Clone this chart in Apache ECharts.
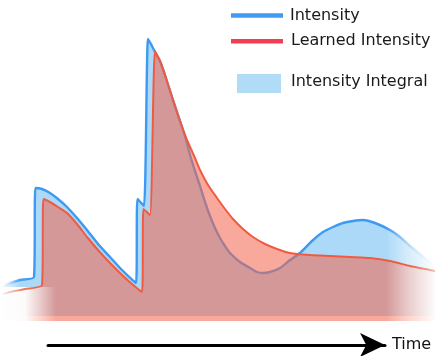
<!DOCTYPE html>
<html>
<head>
<meta charset="utf-8">
<script src="https://cdn.jsdelivr.net/npm/echarts@6/dist/echarts.min.js"></script>
<style>
html,body{margin:0;padding:0;background:#fff;}
#chart{width:435px;height:356px;}
</style>
</head>
<body>
<div id="chart"></div>
<script>
// Intensity (ground truth)
var intensityTime = [0.3,1.0,2.0,3.4,3.55,4.2,5.0,5.8,6.7,7.7,8.7,9.8,11.0,12.2,13.6,13.75,14.4,14.8,15.2,15.6,16.0,16.5,17.3,18.0,18.5,19.0,19.5,20.0,20.5,21.0,21.5,22.0,22.5,23.0,24.0,25.0,25.7,26.3,27.0,28.0,29.0,30.0,31.2,32.3,33.3,34.3,35.3,36.3,37.5,39.0,40.0,41.0,42.0,43.0,43.5];
var intensityValues = [0.35,0.38,0.41,0.44,1.33,1.32,1.28,1.22,1.14,1.03,0.91,0.77,0.64,0.51,0.38,1.22,1.15,2.82,2.75,2.67,2.60,2.46,2.21,2.00,1.85,1.66,1.50,1.35,1.19,1.05,0.93,0.83,0.75,0.68,0.59,0.53,0.49,0.48,0.49,0.53,0.61,0.68,0.80,0.89,0.94,0.98,1.00,1.01,0.98,0.91,0.84,0.75,0.67,0.59,0.55];
// Learned intensity
var learnedTime = [0.3,1.0,2.5,4.2,4.35,5.0,5.8,6.7,7.7,8.7,9.8,11.0,12.2,13.2,14.2,14.35,15.0,15.5,16.0,16.5,17.3,18.0,18.7,19.5,20.0,20.8,21.7,22.5,23.3,24.3,25.3,26.5,27.7,29.0,31.0,33.0,35.0,37.0,39.0,41.0,43.0,43.5];
var learnedValues = [0.27,0.29,0.32,0.36,1.22,1.19,1.14,1.08,0.97,0.84,0.71,0.58,0.46,0.37,0.29,1.12,1.06,2.70,2.60,2.46,2.21,2.00,1.81,1.63,1.51,1.36,1.23,1.12,1.02,0.92,0.84,0.77,0.72,0.68,0.66,0.65,0.64,0.63,0.60,0.55,0.51,0.50];
var legendLabels = ['Intensity', 'Learned Intensity', 'Intensity Integral'];
var axisName = 'Time';

function zip(a, b) { return a.map(function (v, i) { return [v, b[i]]; }); }
var intensityData = zip(intensityTime, intensityValues);
var learnedData = zip(learnedTime, learnedValues);

var FONT = 'DejaVu Sans';
var SMOOTH = 0.2;

function hGrad(stops) {
  return new echarts.graphic.LinearGradient(0, 0, 1, 0, stops);
}

var chart = echarts.init(document.getElementById('chart'), null, {renderer: 'canvas'});
chart.setOption({
  animation: false,
  backgroundColor: '#ffffff',
  grid: [
    {left: 0, right: 0, top: 0, bottom: 35},
    {left: 48, right: 50, top: 343, bottom: 11}
  ],
  xAxis: [
    {type: 'value', gridIndex: 0, min: 0, max: 43.5, show: false},
    {type: 'value', gridIndex: 1, min: 0, max: 1,
      axisLine: {show: true, lineStyle: {color: '#000', width: 3},
        symbol: ['none', 'arrow'], symbolSize: [18, 25]},
      axisTick: {show: false}, axisLabel: {show: false}, splitLine: {show: false},
      name: axisName, nameLocation: 'end', nameGap: 7,
      nameTextStyle: {fontFamily: FONT, fontSize: 16, color: '#111', verticalAlign: 'middle'}}
  ],
  yAxis: [
    {type: 'value', gridIndex: 0, min: 0, max: 3.21, show: false},
    {type: 'value', gridIndex: 1, min: 0, max: 1, show: false}
  ],
  series: [
    {name: 'Intensity Integral', type: 'line', data: intensityData, xAxisIndex: 0, yAxisIndex: 0,
      showSymbol: false, z: 1, smooth: SMOOTH, lineStyle: {width: 0},
      areaStyle: {color: '#acd9f7', opacity: 1, origin: 0.05}},
    {name: 'Intensity', type: 'line', data: intensityData, showSymbol: false, z: 2,
      smooth: SMOOTH,
      lineStyle: {width: 2.4, color: hGrad([
        {offset: 0, color: 'rgba(61,154,242,0)'},
        {offset: 0.035, color: 'rgba(61,154,242,0.9)'},
        {offset: 0.07, color: 'rgba(61,154,242,1)'},
        {offset: 0.9, color: 'rgba(61,154,242,1)'},
        {offset: 1, color: 'rgba(61,154,242,0.15)'}])}},
    {name: 'Learned Intensity Area', type: 'line', data: learnedData, showSymbol: false, z: 3,
      smooth: SMOOTH, lineStyle: {width: 0},
      areaStyle: {color: 'rgba(244,101,76,0.56)', opacity: 1, origin: 'start'}},
    {name: 'Learned Intensity', type: 'line', data: learnedData, showSymbol: false, z: 5,
      smooth: SMOOTH,
      lineStyle: {width: 2, color: hGrad([
        {offset: 0, color: 'rgba(240,90,64,0)'},
        {offset: 0.05, color: 'rgba(240,90,64,0.8)'},
        {offset: 0.1, color: 'rgba(240,90,64,1)'},
        {offset: 0.93, color: 'rgba(240,90,64,1)'},
        {offset: 1, color: 'rgba(240,90,64,0.35)'}])}}
  ],
  graphic: [
    // left fade (below the lines at the left edge)
    {type: 'rect', z: 4, silent: true, shape: {x: 0, y: 287, width: 56, height: 41},
      style: {fill: hGrad([
        {offset: 0, color: 'rgba(255,255,255,1)'},
        {offset: 0.45, color: 'rgba(255,255,255,0.95)'},
        {offset: 0.75, color: 'rgba(255,255,255,0.45)'},
        {offset: 1, color: 'rgba(255,255,255,0)'}])}},
    {type: 'rect', z: 4, silent: true, shape: {x: 0, y: 262, width: 20, height: 25},
      style: {fill: hGrad([
        {offset: 0, color: 'rgba(255,255,255,0.95)'},
        {offset: 1, color: 'rgba(255,255,255,0)'}])}},
    // right fade
    {type: 'rect', z: 4, silent: true, shape: {x: 386, y: 205, width: 49, height: 123},
      style: {fill: hGrad([
        {offset: 0, color: 'rgba(255,255,255,0)'},
        {offset: 0.45, color: 'rgba(255,255,255,0.5)'},
        {offset: 1, color: 'rgba(255,255,255,0.97)'}])}},
    // legend
    {type: 'line', z: 10, shape: {x1: 231, y1: 15.5, x2: 283, y2: 15.5},
      style: {stroke: '#3f9bf3', lineWidth: 4.5}},
    {type: 'text', z: 10, x: 290, y: 15.5,
      style: {text: legendLabels[0], font: '16px "' + FONT + '"', fill: '#1a1a1a', textVerticalAlign: 'middle'}},
    {type: 'line', z: 10, shape: {x1: 231, y1: 41.3, x2: 283, y2: 41.3},
      style: {stroke: '#f43c52', lineWidth: 4.5}},
    {type: 'text', z: 10, x: 291, y: 40.5,
      style: {text: legendLabels[1], font: '16px "' + FONT + '"', fill: '#1a1a1a', textVerticalAlign: 'middle'}},
    {type: 'rect', z: 10, shape: {x: 237, y: 74, width: 44, height: 19},
      style: {fill: '#b0dcf8'}},
    {type: 'text', z: 10, x: 291, y: 82,
      style: {text: legendLabels[2], font: '16px "' + FONT + '"', fill: '#1a1a1a', textVerticalAlign: 'middle'}}
  ]
});
</script>
</body>
</html>
